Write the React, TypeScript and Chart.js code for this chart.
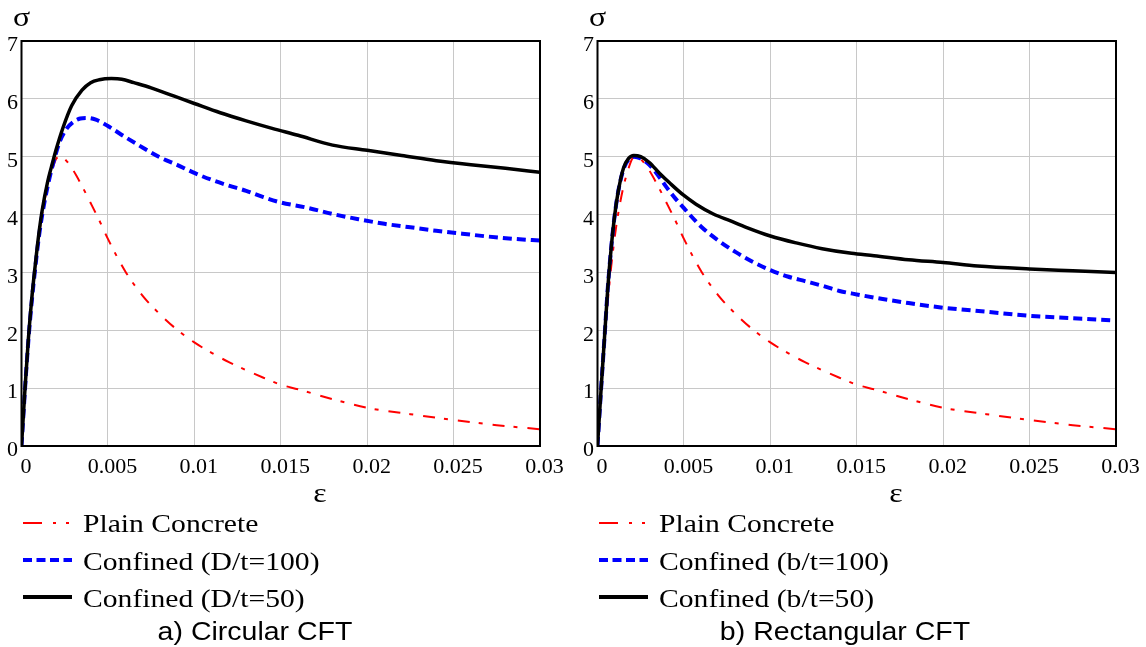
import React, { useEffect, useRef } from "react";
import { Chart, registerables } from "chart.js";

Chart.register(...registerables);

// ---------- data ----------
const xTicks = [0, 0.005, 0.01, 0.015, 0.02, 0.025, 0.03];
const yTicks = [0, 1, 2, 3, 4, 5, 6, 7];

const plainStrain = [0, 0.0002, 0.0004, 0.0006, 0.0008, 0.001, 0.0012, 0.0015, 0.0018, 0.002, 0.0022, 0.0025, 0.003, 0.0034, 0.004, 0.0045, 0.005, 0.006, 0.007, 0.008, 0.009, 0.01, 0.011, 0.012, 0.013, 0.014, 0.015, 0.016, 0.018, 0.02, 0.0225, 0.025, 0.0275, 0.03];
const plainStress = [0, 0.95, 1.8, 2.52, 3.12, 3.62, 4.02, 4.48, 4.8, 4.96, 5.0, 4.96, 4.76, 4.55, 4.2, 3.9, 3.58, 3.02, 2.6, 2.28, 2.01, 1.79, 1.61, 1.45, 1.31, 1.18, 1.06, 0.98, 0.81, 0.66, 0.55, 0.45, 0.36, 0.29];

const circ100Strain = [0, 0.0002, 0.0004, 0.0006, 0.0008, 0.001, 0.0012, 0.0015, 0.0018, 0.0022, 0.0026, 0.003, 0.0034, 0.0038, 0.0043, 0.005, 0.006, 0.007, 0.008, 0.009, 0.01, 0.011, 0.012, 0.013, 0.014, 0.015, 0.0165, 0.018, 0.0195, 0.021, 0.0225, 0.024, 0.0255, 0.027, 0.0285, 0.03];
const circ100Stress = [0, 0.97, 1.83, 2.52, 3.09, 3.6, 4.0, 4.47, 4.85, 5.25, 5.48, 5.6, 5.66, 5.67, 5.64, 5.53, 5.34, 5.16, 4.99, 4.86, 4.72, 4.6, 4.5, 4.41, 4.3, 4.21, 4.12, 4.01, 3.92, 3.84, 3.78, 3.72, 3.67, 3.62, 3.58, 3.55];

const circ50Strain = [0, 0.0002, 0.0004, 0.0006, 0.0008, 0.001, 0.0012, 0.0015, 0.0018, 0.002, 0.0024, 0.0029, 0.0035, 0.004, 0.0045, 0.0052, 0.0058, 0.0065, 0.0075, 0.0088, 0.01, 0.0115, 0.013, 0.0145, 0.016, 0.018, 0.02, 0.022, 0.024, 0.026, 0.028, 0.03];
const circ50Stress = [0, 0.98, 1.86, 2.57, 3.14, 3.66, 4.08, 4.55, 4.9, 5.12, 5.5, 5.88, 6.15, 6.28, 6.33, 6.35, 6.34, 6.28, 6.19, 6.05, 5.92, 5.76, 5.62, 5.49, 5.37, 5.2, 5.11, 5.02, 4.93, 4.86, 4.8, 4.73];

const rect100Strain = [0, 0.0002, 0.0004, 0.0006, 0.0008, 0.001, 0.0012, 0.0015, 0.0018, 0.0021, 0.0025, 0.003, 0.0035, 0.004, 0.0045, 0.005, 0.006, 0.007, 0.008, 0.009, 0.01, 0.011, 0.012, 0.013, 0.014, 0.015, 0.0165, 0.018, 0.02, 0.0225, 0.025, 0.0275, 0.03];
const rect100Stress = [0, 0.95, 1.85, 2.75, 3.45, 4.0, 4.4, 4.78, 4.95, 5.0, 4.97, 4.86, 4.68, 4.47, 4.28, 4.11, 3.79, 3.55, 3.35, 3.18, 3.04, 2.93, 2.85, 2.77, 2.68, 2.62, 2.54, 2.47, 2.39, 2.32, 2.25, 2.21, 2.17];

const rect50Strain = [0, 0.0002, 0.0004, 0.0006, 0.0008, 0.001, 0.0012, 0.0015, 0.0018, 0.0021, 0.0025, 0.003, 0.0036, 0.0042, 0.005, 0.0057, 0.0067, 0.0077, 0.0086, 0.01, 0.0115, 0.013, 0.0147, 0.016, 0.018, 0.02, 0.022, 0.025, 0.0275, 0.03];
const rect50Stress = [0, 0.95, 1.85, 2.75, 3.45, 4.0, 4.4, 4.8, 4.97, 5.02, 5.0, 4.9, 4.71, 4.54, 4.33, 4.18, 4.01, 3.89, 3.78, 3.63, 3.51, 3.41, 3.33, 3.29, 3.22, 3.17, 3.11, 3.06, 3.03, 3.0];

const circLabels = ["Plain Concrete", "Confined (D/t=100)", "Confined (D/t=50)"];
const rectLabels = ["Plain Concrete", "Confined (b/t=100)", "Confined (b/t=50)"];
const captions = ["a) Circular CFT", "b) Rectangular CFT"];

// ---------- styles ----------
const SERIF = '"Liberation Serif", "Times New Roman", serif';
const SANS = '"Liberation Sans", Arial, sans-serif';
const RED = "#ff0000";
const BLUE = "#0000ff";
const BLACK = "#000000";

function toPoints(xs: number[], ys: number[]) {
  return xs.map((x, i) => ({ x, y: ys[i] }));
}

type PanelProps = {
  left: number;
  width: number;
  labels: string[];
  caption: string;
  captionX: number;
  s100x: number[];
  s100y: number[];
  s50x: number[];
  s50y: number[];
};

function Panel(p: PanelProps) {
  const ref = useRef<HTMLCanvasElement | null>(null);
  useEffect(() => {
    if (!ref.current) return;
    const stretch = 1.14;
    const drawStretched = (ctx: CanvasRenderingContext2D, text: string, x: number, y: number, font: string, align: CanvasTextAlign) => {
      ctx.save();
      ctx.font = font;
      ctx.fillStyle = "#000";
      ctx.textBaseline = "alphabetic";
      const w = ctx.measureText(text).width * stretch;
      let x0 = x;
      if (align === "center") x0 = x - w / 2;
      ctx.translate(x0, y);
      ctx.scale(stretch, 1);
      ctx.textAlign = "left";
      ctx.fillText(text, 0, 0);
      ctx.restore();
    };
    const decor = {
      id: "decor",
      afterDraw(chart: any) {
        const ctx: CanvasRenderingContext2D = chart.ctx;
        const a = chart.chartArea;
        // frame
        ctx.save();
        ctx.strokeStyle = "#000";
        ctx.lineWidth = 2;
        ctx.strokeRect(a.left, a.top, a.right - a.left, a.bottom - a.top);
        ctx.restore();
        // axis titles
        drawStretched(ctx, "σ", a.left, 26, `28px ${SERIF}`, "center");
        drawStretched(ctx, "ε", 320, 502, `28px ${SERIF}`, "center");
        // legend
        const rows = [
          { color: RED, width: 2, dash: [19, 11, 3, 10, 3, 10], ly: 523, ty: 532 },
          { color: BLUE, width: 4, dash: [9, 4.5], ly: 560, ty: 570 },
          { color: BLACK, width: 4, dash: [], ly: 597, ty: 607 },
        ];
        rows.forEach((r, i) => {
          ctx.save();
          ctx.strokeStyle = r.color;
          ctx.lineWidth = r.width;
          ctx.setLineDash(r.dash);
          ctx.beginPath();
          ctx.moveTo(23, r.ly);
          ctx.lineTo(72, r.ly);
          ctx.stroke();
          ctx.restore();
          drawStretched(ctx, p.labels[i], 83, r.ty, `26px ${SERIF}`, "left");
        });
        drawStretched(ctx, p.caption, p.captionX, 640, `25px ${SANS}`, "center");
      },
    };
    const tickFont = { family: SERIF, size: 22 };
    const chart = new Chart(ref.current, {
      type: "scatter",
      data: {
        datasets: [
          {
            label: p.labels[2],
            data: toPoints(p.s50x, p.s50y),
            showLine: true,
            borderColor: BLACK,
            borderWidth: 3.5,
            pointRadius: 0,
            cubicInterpolationMode: "monotone",
          },
          {
            label: p.labels[1],
            data: toPoints(p.s100x, p.s100y),
            showLine: true,
            borderColor: BLUE,
            borderWidth: 4,
            borderDash: [9, 5],
            pointRadius: 0,
            cubicInterpolationMode: "monotone",
          },
          {
            label: p.labels[0],
            data: toPoints(plainStrain, plainStress),
            showLine: true,
            borderColor: RED,
            borderWidth: 2,
            borderDash: [12, 9, 4, 10],
            pointRadius: 0,
            cubicInterpolationMode: "monotone",
          },
        ],
      },
      options: {
        animation: false,
        responsive: false,
        maintainAspectRatio: false,
        events: [],
        layout: { padding: { left: 0, top: 41, right: p.width - 540, bottom: 161 } },
        plugins: { legend: { display: false }, tooltip: { enabled: false } },
        scales: {
          x: {
            type: "linear",
            min: 0,
            max: 0.03,
            afterBuildTicks: (s: any) => {
              s.ticks = xTicks.map((v) => ({ value: v }));
            },
            afterFit: (s: any) => {
              s.height = 40;
            },
            ticks: {
              font: tickFont,
              color: "#000",
              padding: 8,
              labelOffset: 4.5,
              maxRotation: 0,
              autoSkip: false,
              callback: (v: any) => String(v),
            },
            grid: { color: "#c8c8c8", lineWidth: 1, drawTicks: false },
            border: { display: false },
          },
          y: {
            type: "linear",
            min: 0,
            max: 7,
            afterBuildTicks: (s: any) => {
              s.ticks = yTicks.map((v) => ({ value: v }));
            },
            afterFit: (s: any) => {
              s.width = 21.5;
            },
            ticks: {
              font: tickFont,
              color: "#000",
              padding: 3.5,
              labelOffset: 4.5,
              autoSkip: false,
              callback: (v: any) => String(v),
            },
            grid: { color: "#c8c8c8", lineWidth: 1, drawTicks: false },
            border: { display: false },
          },
        },
      },
      plugins: [decor],
    } as any);
    return () => chart.destroy();
  }, []);
  return (
    <canvas
      ref={ref}
      width={p.width}
      height={647}
      style={{ position: "absolute", left: p.left, top: 0, width: p.width, height: 647 }}
    />
  );
}

export default function App() {
  return (
    <div style={{ position: "absolute", left: 0, top: 0, width: 1146, height: 647, background: "#fff", overflow: "hidden" }}>
      <Panel
        left={0}
        width={573}
        labels={circLabels}
        caption={captions[0]}
        captionX={255}
        s100x={circ100Strain}
        s100y={circ100Stress}
        s50x={circ50Strain}
        s50y={circ50Stress}
      />
      <Panel
        left={576}
        width={570}
        labels={rectLabels}
        caption={captions[1]}
        captionX={269}
        s100x={rect100Strain}
        s100y={rect100Stress}
        s50x={rect50Strain}
        s50y={rect50Stress}
      />
    </div>
  );
}
